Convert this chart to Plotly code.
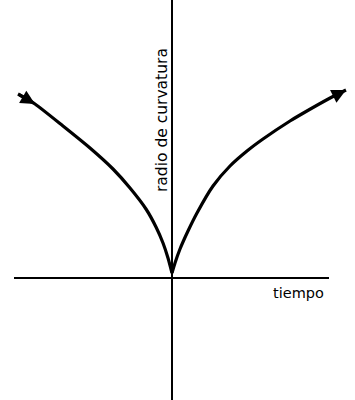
import plotly.graph_objects as go

# Values (tiempo, radio de curvatura), arbitrary units
left_t = [-15.4, -13.7, -10.9, -8.2, -5.9, -4.2, -2.6, -1.6, -0.9, -0.4, 0.0]
left_r = [18.4, 17.4, 15.2, 13.0, 10.9, 9.0, 6.9, 5.1, 3.5, 2.0, 0.5]
right_t = [0.0, 0.3, 0.8, 1.6, 2.5, 4.1, 5.8, 7.5, 9.1, 11.8, 12.8, 16.0, 17.4]
right_r = [0.5, 1.5, 2.9, 4.7, 6.5, 9.2, 11.2, 12.7, 13.9, 15.7, 16.3, 18.1, 18.8]

axis_t = [-15.8, 15.7]
x_label = "tiempo"
y_label = "radio de curvatura"

fig = go.Figure()

fig.add_trace(go.Scatter(
    x=axis_t, y=[0, 0], mode="lines",
    line=dict(color="black", width=2), hoverinfo="skip", showlegend=False))

for ts, rs in ((left_t, left_r), (right_t, right_r)):
    fig.add_trace(go.Scatter(
        x=ts, y=rs, mode="lines",
        line=dict(color="black", width=3.2, shape="spline", smoothing=0.6),
        hoverinfo="skip", showlegend=False))

# arrowheads along the curve (direction of travel)
arrows = [(left_t[1], left_r[1], left_t[0], left_r[0]),
          (right_t[-1], right_r[-1], right_t[-2], right_r[-2])]
for x, y, ax, ay in arrows:
    fig.add_annotation(x=x, y=y, ax=ax, ay=ay, xref="x", yref="y",
                       axref="x", ayref="y", text="", showarrow=True,
                       arrowhead=2, arrowsize=0.95, arrowwidth=3,
                       arrowcolor="black", standoff=0, startstandoff=0)

fig.add_annotation(x=-1.0, y=15.8, text=y_label, textangle=-90, showarrow=False,
                   font=dict(family="DejaVu Sans", size=15.5, color="black"))
fig.add_annotation(x=12.6, y=-1.5, text=x_label, showarrow=False,
                   font=dict(family="DejaVu Sans", size=14.5, color="black"))

fig.update_layout(
    width=355, height=400,
    margin=dict(l=0, r=0, t=0, b=0),
    paper_bgcolor="white", plot_bgcolor="white",
    xaxis=dict(range=[-17.2, 18.3], showgrid=False, showticklabels=False,
               ticks="", zeroline=True, zerolinecolor="black", zerolinewidth=2,
               showline=False, fixedrange=True),
    yaxis=dict(range=[-12.2, 27.8], showgrid=False, showticklabels=False,
               ticks="", zeroline=False, showline=False, fixedrange=True),
)

fig.write_html("out.html")
